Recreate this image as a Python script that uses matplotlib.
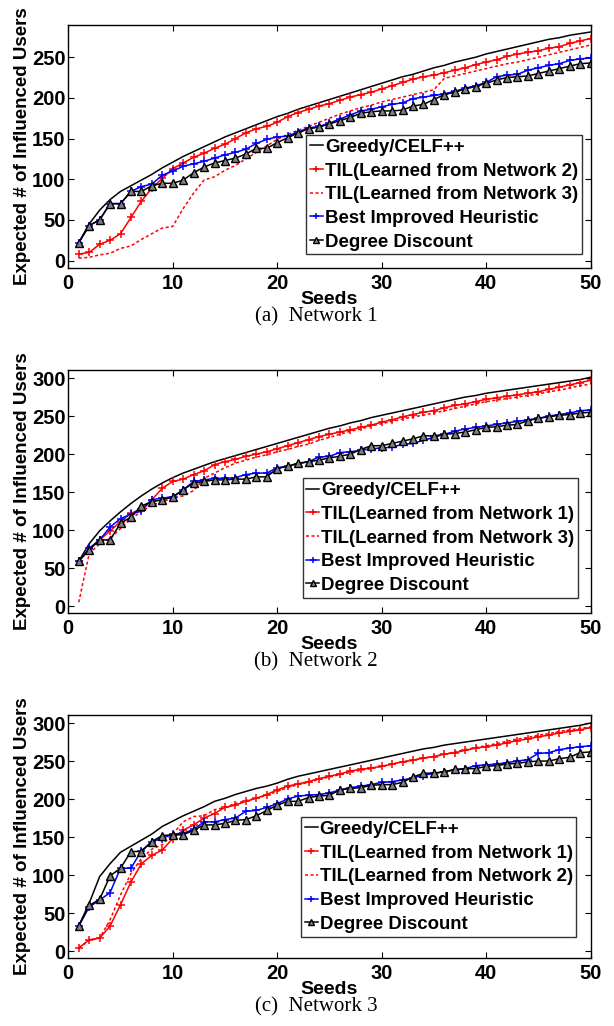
import matplotlib
matplotlib.use("Agg")
import matplotlib.pyplot as plt

plt.rcParams['font.family'] = ['Liberation Sans', 'DejaVu Sans']
plt.rcParams['font.weight'] = 'bold'

seeds = list(range(1, 51))

# ---- Network 1 ----
n1_greedy = [22, 45, 62, 75, 85, 92, 99, 106, 114, 121, 128, 134, 140, 146, 152, 157, 162, 167, 172, 177,
             181, 186, 190, 194, 198, 202, 206, 210, 214, 218, 222, 226, 229, 233, 237, 240, 244, 247, 250, 254,
             257, 260, 263, 266, 269, 272, 274, 277, 279, 281]
n1_til_a = [8, 10, 20, 25, 33, 53, 73, 89, 101, 113, 120, 127, 132, 138, 143, 150, 157, 162, 165, 170,
            177, 182, 186, 190, 193, 197, 201, 204, 207, 211, 215, 219, 223, 226, 228, 231, 234, 237, 241, 244,
            247, 251, 254, 256, 258, 261, 263, 267, 270, 273]
n1_til_b = [3, 4, 7, 9, 15, 18, 26, 33, 40, 42, 64, 83, 99, 103, 111, 117, 125, 133, 141, 149,
            155, 160, 165, 170, 175, 180, 184, 188, 191, 195, 198, 201, 204, 207, 210, 224, 227, 230, 233, 236,
            239, 242, 244, 247, 250, 253, 256, 259, 262, 265]
n1_best = [22, 43, 50, 70, 70, 85, 91, 94, 105, 110, 116, 119, 122, 126, 130, 133, 137, 144, 149, 152,
           153, 158, 163, 165, 169, 174, 179, 184, 186, 189, 192, 194, 199, 201, 203, 205, 208, 212, 215, 219,
           226, 228, 229, 234, 237, 240, 242, 246, 248, 249]
n1_dd = [22, 43, 50, 70, 70, 85, 85, 92, 95, 95, 99, 108, 115, 120, 123, 126, 131, 138, 138, 145,
         151, 157, 162, 164, 168, 172, 176, 181, 183, 184, 184, 185, 190, 192, 198, 204, 207, 211, 214, 218,
         222, 225, 226, 227, 230, 233, 236, 239, 242, 243]

# ---- Network 2 ----
n2_greedy = [59, 82, 99, 112, 124, 135, 145, 154, 162, 169, 175, 180, 185, 190, 194, 198, 202, 206, 210, 214,
             218, 222, 226, 230, 234, 237, 241, 244, 248, 251, 254, 257, 260, 263, 266, 269, 272, 275, 277, 280,
             282, 284, 286, 288, 290, 292, 294, 296, 298, 301]
n2_til_a = [59, 75, 87, 99, 111, 122, 128, 140, 155, 164, 167, 173, 178, 186, 190, 193, 197, 200, 203, 207,
            211, 215, 219, 223, 226, 229, 232, 235, 238, 242, 245, 249, 252, 255, 257, 261, 264, 266, 269, 272,
            274, 276, 278, 280, 282, 285, 288, 291, 294, 297]
n2_til_b = [5, 69, 82, 89, 102, 115, 124, 133, 137, 142, 145, 152, 168, 175, 182, 188, 192, 196, 199, 203,
            206, 210, 213, 218, 222, 226, 230, 233, 237, 240, 243, 246, 249, 251, 254, 257, 260, 263, 266, 269,
            271, 273, 275, 277, 279, 282, 284, 287, 290, 292]
n2_best = [59, 76, 87, 104, 115, 121, 125, 140, 142, 144, 153, 164, 166, 168, 168, 169, 173, 175, 175, 182,
           184, 187, 190, 196, 197, 202, 203, 205, 207, 208, 209, 213, 214, 218, 222, 226, 230, 233, 235, 237,
           239, 241, 243, 245, 247, 250, 252, 254, 257, 258]
n2_dd = [59, 74, 87, 87, 109, 117, 132, 137, 140, 143, 153, 162, 164, 166, 166, 167, 167, 170, 170, 181,
         184, 188, 190, 192, 195, 197, 200, 206, 211, 211, 214, 217, 220, 224, 224, 226, 227, 229, 232, 235,
         236, 238, 239, 244, 247, 249, 251, 252, 254, 255]

# ---- Network 3 ----
n3_greedy = [33, 63, 98, 115, 130, 138, 146, 154, 164, 171, 178, 184, 190, 197, 201, 206, 210, 214, 217, 221,
             226, 230, 233, 236, 239, 242, 245, 248, 251, 254, 257, 260, 263, 266, 268, 271, 273, 275, 277, 279,
             281, 283, 285, 287, 289, 291, 293, 295, 297, 300]
n3_til_a = [4, 15, 17, 33, 61, 91, 115, 126, 133, 148, 159, 166, 175, 181, 189, 192, 197, 201, 206, 212,
            217, 220, 223, 227, 230, 233, 237, 239, 241, 243, 246, 249, 251, 254, 256, 259, 261, 264, 267, 269,
            271, 274, 277, 279, 282, 284, 287, 289, 291, 294]
n3_til_b = [4, 14, 17, 41, 74, 102, 122, 134, 140, 154, 170, 177, 178, 186, 189, 194, 198, 201, 205, 210,
            215, 219, 222, 226, 229, 232, 235, 238, 240, 243, 246, 249, 251, 254, 256, 259, 262, 265, 268, 270,
            273, 276, 279, 281, 284, 286, 289, 291, 293, 295]
n3_best = [33, 58, 67, 77, 109, 109, 132, 144, 148, 154, 155, 160, 170, 170, 173, 175, 184, 185, 189, 194,
           200, 204, 205, 206, 208, 212, 215, 217, 219, 222, 223, 225, 228, 231, 234, 236, 238, 240, 244, 245,
           246, 248, 250, 252, 260, 261, 265, 267, 269, 270]
n3_dd = [33, 60, 68, 99, 109, 131, 131, 144, 152, 153, 153, 159, 166, 166, 168, 172, 173, 178, 185, 192,
         197, 197, 202, 204, 205, 212, 214, 215, 218, 219, 219, 222, 229, 234, 234, 236, 239, 240, 240, 243,
         244, 246, 247, 249, 250, 250, 253, 255, 261, 262]

panels = [
    (n1_greedy, n1_til_a, n1_til_b, n1_best, n1_dd, 'Network 2', 'Network 3', '(a)  Network 1', 290, [0, 50, 100, 150, 200, 250]),
    (n2_greedy, n2_til_a, n2_til_b, n2_best, n2_dd, 'Network 1', 'Network 3', '(b)  Network 2', 311, [0, 50, 100, 150, 200, 250, 300]),
    (n3_greedy, n3_til_a, n3_til_b, n3_best, n3_dd, 'Network 1', 'Network 2', '(c)  Network 3', 311, [0, 50, 100, 150, 200, 250, 300]),
]

W, H = 614, 1026
fig = plt.figure(figsize=(W / 100, H / 100), dpi=100)

ax_tops = [24.7, 369.7, 714.7]
ax_h = 243.6
ax_left, ax_right = 68.3, 590.5
leg_anchor = [(0.983, 0.057), (0.976, 0.064), (0.973, 0.089)]

for i, (g, ta, tb, best, dd, na, nb, cap, ytop, yt) in enumerate(panels):
    top = ax_tops[i]
    ax = fig.add_axes([ax_left / W, (H - top - ax_h) / H, (ax_right - ax_left) / W, ax_h / H])
    ax.plot(seeds, g, color='black', lw=1.1, label='Greedy/CELF++')
    ax.plot(seeds, ta, color='red', lw=1.1, marker='+', ms=5.5, mew=1.1,
            label='TIL(Learned from ' + na + ')')
    ax.plot(seeds, tb, color='red', lw=1.1, linestyle=(0, (2, 1.6)),
            label='TIL(Learned from ' + nb + ')')
    ax.plot(seeds, best, color='blue', lw=1.1, marker='+', ms=5.5, mew=1.1,
            label='Best Improved Heuristic')
    ax.plot(seeds, dd, color='black', lw=1.1, marker='^', ms=5.5, mew=1.0,
            mfc='#808080', mec='black', label='Degree Discount')

    ax.set_xlim(0, 50)
    ax.set_ylim(-9.5, ytop)
    ax.set_xticks([0, 10, 20, 30, 40, 50])
    ax.set_yticks(yt)
    ax.tick_params(direction='in', length=4, width=0.8, top=True, right=True,
                   labelsize=14.5, pad=2)
    ax.tick_params(axis='x', pad=4)
    for t in ax.get_xticklabels() + ax.get_yticklabels():
        t.set_fontweight('bold')
    for s in ax.spines.values():
        s.set_linewidth(1.0)
    ax.set_xlabel('Seeds', fontsize=14, fontweight='bold', labelpad=-1)
    ax.set_ylabel('Expected # of Influenced Users', fontsize=13.5, fontweight='bold', labelpad=1)

    leg = ax.legend(loc='lower right', bbox_to_anchor=leg_anchor[i], fontsize=13.4,
                    handlelength=0.7, handletextpad=0.1, labelspacing=0.36,
                    borderpad=0.2, borderaxespad=0, fancybox=False,
                    frameon=True, markerscale=0.9)
    leg.get_frame().set_edgecolor('black')
    leg.get_frame().set_linewidth(1.0)
    for t in leg.get_texts():
        t.set_fontweight('bold')

    fig.text(316 / W, 1 - (top + ax_h + 53.4) / H, cap, ha='center', va='baseline',
             fontsize=15, family=['Liberation Serif', 'DejaVu Serif'], fontweight='normal')

fig.savefig('out.png', dpi=100)
